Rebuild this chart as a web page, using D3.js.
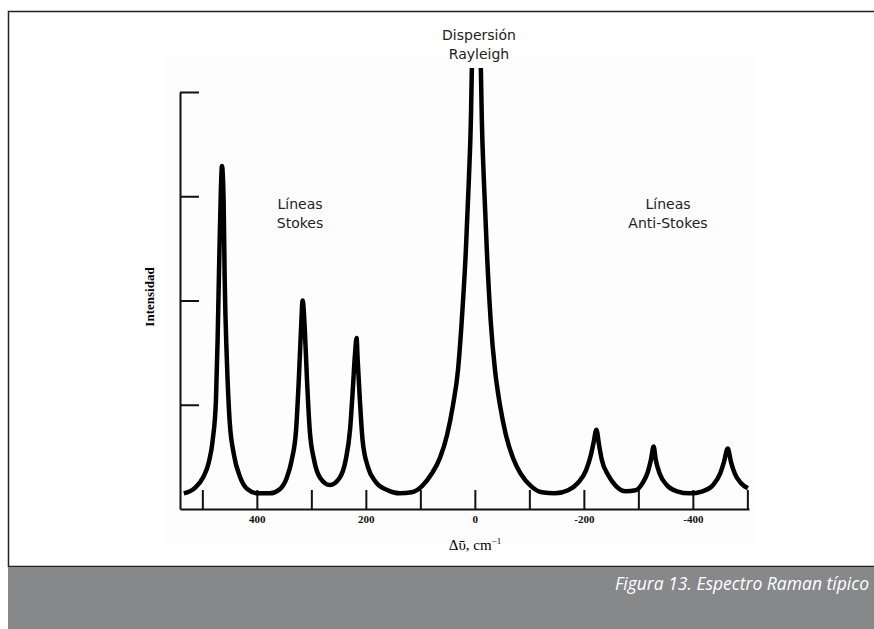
<!DOCTYPE html>
<html>
<head>
<meta charset="utf-8">
<script src="https://cdn.jsdelivr.net/npm/d3@7"></script>
<style>
  body { margin: 0; background: #fff; }
  svg { display: block; }
</style>
</head>
<body>
<svg id="canvas" width="874" height="629"></svg>
<script>
// spectrum: Raman shift (cm-1) and intensity (axis units 0-4)
let shift = [534, 514, 499, 488, 481, 475, 472, 469, 466, 464, 461, 459, 455, 450, 442, 431, 417, 398,
    376, 358, 345, 336, 328, 323, 319, 316, 312, 308, 303, 295, 284, 266,
    248, 237, 229, 224, 220, 217, 215, 211, 206, 196, 182, 160, 138,
    116, 97, 79, 64, 51, 40, 31, 24, 16.5, 11, 7.3, 5.5, 4, 0, -9,
    -11, -12.8, -16.5, -22, -29, -37, -46, -57, -70, -84, -103, -123, -147,
    -171, -189, -204, -213, -218, -223, -228, -233, -244, -259, -277,
    -295, -308, -317, -323, -328, -332, -339, -352, -371, -394,
    -418, -437, -450, -457, -464, -470, -477, -488, -501];
let intensity = [0.15, 0.20, 0.30, 0.45, 0.66, 1.05, 1.62, 2.39, 3.06, 3.29, 2.96, 2.20, 1.43, 0.85, 0.52, 0.31, 0.19, 0.15,
    0.15, 0.19, 0.30, 0.47, 0.76, 1.24, 1.72, 2.00, 1.72, 1.24, 0.76, 0.47, 0.30, 0.23,
    0.30, 0.47, 0.76, 1.14, 1.48, 1.64, 1.43, 1.05, 0.66, 0.40, 0.26, 0.18, 0.15,
    0.16, 0.22, 0.34, 0.49, 0.71, 1.00, 1.33, 1.81, 2.48, 3.16, 3.73, 4.23, 5.0, 6.0, 5.0,
    4.23, 3.73, 3.16, 2.48, 1.81, 1.33, 1.00, 0.71, 0.49, 0.34, 0.22, 0.16, 0.15,
    0.18, 0.25, 0.37, 0.52, 0.64, 0.76, 0.61, 0.47, 0.33, 0.22, 0.17,
    0.18, 0.25, 0.35, 0.47, 0.60, 0.47, 0.34, 0.23, 0.17, 0.15,
    0.17, 0.23, 0.34, 0.45, 0.58, 0.45, 0.34, 0.25, 0.20];

let xTicks = [500, 400, 300, 200, 100, 0, -100, -200, -300, -400, -500];
let xLabels = [400, 200, 0, -200, -400];
let yTicks = [1, 2, 3, 4];

let notes = [
    {lines: ['Dispersión', 'Rayleigh'], x: 479, y: 40},
    {lines: ['Líneas', 'Stokes'], x: 300, y: 209},
    {lines: ['Líneas', 'Anti-Stokes'], x: 668, y: 209}
];

let canvas = d3.select('#canvas');

let x = d3.scaleLinear().domain([541, -503]).range([180, 749]);
let y = d3.scaleLinear().domain([0, 4]).range([509, 92]);

// frame + grey caption band
canvas.append('rect')
    .attr('x', 165).attr('y', 58)
    .attr('width', 590).attr('height', 487)
    .attr('fill', '#fdfdfd');

canvas.append('path')
    .attr('d', 'M874,11.5 H8.5 V566.5 H874')
    .attr('fill', 'none')
    .attr('stroke', '#222')
    .attr('stroke-width', 1.5);

canvas.append('rect')
    .attr('x', 8).attr('y', 567)
    .attr('width', 866).attr('height', 62)
    .attr('fill', '#87888a');

canvas.append('text')
    .attr('x', 869)
    .attr('y', 590)
    .attr('text-anchor', 'end')
    .style('font', 'italic 17.5px "Open Sans"')
    .attr('fill', '#fff')
    .text('Figura 13. Espectro Raman típico');

// axes
let xAxis = d3.axisBottom(x)
    .tickValues(xTicks)
    .tickSizeInner(-19)
    .tickSizeOuter(0)
    .tickPadding(6)
    .tickFormat(d => xLabels.includes(d) ? d : '');

let gx = canvas.append('g')
    .attr('transform', 'translate(0,509)')
    .call(xAxis);

let yAxis = d3.axisLeft(y)
    .tickValues(yTicks)
    .tickSizeInner(-19)
    .tickSizeOuter(0)
    .tickFormat('');

let gy = canvas.append('g')
    .attr('transform', 'translate(180,0)')
    .call(yAxis);

canvas.selectAll('.domain, .tick line')
    .attr('stroke', '#111')
    .attr('stroke-width', 2);

gx.selectAll('.tick text')
    .style('font', 'bold 11px "Liberation Serif"')
    .attr('fill', '#111');

canvas.append('text')
    .attr('transform', 'translate(154,297) rotate(-90)')
    .attr('text-anchor', 'middle')
    .style('font', 'bold 13px "Liberation Serif"')
    .text('Intensidad');

let xt = canvas.append('text')
    .attr('x', 475)
    .attr('y', 550)
    .attr('text-anchor', 'middle')
    .style('font', '15px "Liberation Serif"');
xt.append('tspan').text('Δῡ, cm');
xt.append('tspan').attr('dy', -6).style('font-size', '9px').text('−1');

// spectrum, clipped where the Rayleigh peak runs off the top
canvas.append('clipPath')
    .attr('id', 'clip')
    .append('rect')
    .attr('x', 170).attr('y', 68)
    .attr('width', 600).attr('height', 460);

let line = d3.line()
    .x(d => x(d[0]))
    .y(d => y(d[1]))
    .curve(d3.curveMonotoneX);

canvas.append('path')
    .datum(d3.zip(shift, intensity))
    .attr('clip-path', 'url(#clip)')
    .attr('d', line)
    .attr('fill', 'none')
    .attr('stroke', '#000')
    .attr('stroke-width', 4.5)
    .attr('stroke-linejoin', 'round');

// annotations
notes.forEach(n => {
    n.lines.forEach((t, i) => {
        canvas.append('text')
            .attr('x', n.x)
            .attr('y', n.y + i * 19)
            .attr('text-anchor', 'middle')
            .style('font', '14px "Comic Sans MS", "DejaVu Sans"')
            .attr('fill', '#222')
            .text(t);
    });
});
</script>
</body>
</html>
